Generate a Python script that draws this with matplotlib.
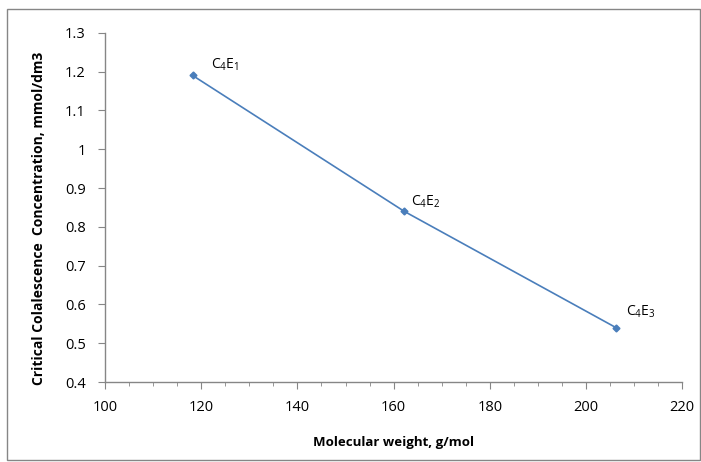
import matplotlib
matplotlib.use("Agg")
import matplotlib.pyplot as plt
from matplotlib.ticker import MultipleLocator
from matplotlib.patches import Rectangle

# data
mol_weight = [118.2, 162.2, 206.3]
ccc = [1.19, 0.84, 0.54]
names = ["C$_4$E$_1$", "C$_4$E$_2$", "C$_4$E$_3$"]

plt.rcParams["font.family"] = ["Open Sans", "DejaVu Sans"]
plt.rcParams["mathtext.fontset"] = "custom"
plt.rcParams["mathtext.rm"] = "Open Sans"
plt.rcParams["mathtext.it"] = "Open Sans"

fig = plt.figure(figsize=(7.01, 4.62), dpi=100)
ax = fig.add_axes([0.150, 0.173, 0.823, 0.756])

ax.plot(mol_weight, ccc, color="#4A7EBB", lw=1.2, marker="D", ms=3.5,
        markerfacecolor="#4A7EBB", markeredgecolor="#4A7EBB")
# label offsets (points), as placed in the original
label_offsets = [(13.5, 8), (5, 6.5), (7, 11.5)]
for x, y, s, off in zip(mol_weight, ccc, names, label_offsets):
    ax.annotate(s, (x, y), xytext=off, textcoords="offset points",
                fontsize=10, ha="left", va="center")

ax.set_xlim(100, 220)
ax.set_ylim(0.4, 1.3)
ax.xaxis.set_major_locator(MultipleLocator(20))
ax.xaxis.set_minor_locator(MultipleLocator(5))
ax.set_yticks([0.4, 0.5, 0.6, 0.7, 0.8, 0.9, 1.0, 1.1, 1.2, 1.3])
ax.set_yticklabels(["0.4", "0.5", "0.6", "0.7", "0.8", "0.9", "1", "1.1", "1.2", "1.3"])

for side in ["top", "right"]:
    ax.spines[side].set_visible(False)
for side in ["left", "bottom"]:
    ax.spines[side].set_color("#868686")
    ax.spines[side].set_linewidth(1.0)
ax.tick_params(axis="both", which="major", direction="out", length=5,
               color="#868686", labelsize=10.5)
ax.tick_params(axis="y", which="major", pad=9)
ax.tick_params(axis="x", which="major", pad=8)
ax.tick_params(axis="x", which="minor", direction="out", length=3, color="#868686")

ax.set_xlabel("Molecular weight, g/mol", fontsize=9.5, fontweight="bold")
ax.xaxis.set_label_coords(0.5, -0.155)
ax.set_ylabel("Critical Colalescence  Concentration, mmol/dm3", fontsize=10,
              fontweight="bold")
ax.yaxis.set_label_coords(-0.102, 0.47)

# outer chart border
fig.patches.append(Rectangle((0.010, 0.004), 0.988, 0.976, transform=fig.transFigure,
                             fill=False, edgecolor="#868686", lw=1.0))

fig.savefig("out.png", dpi=100)
